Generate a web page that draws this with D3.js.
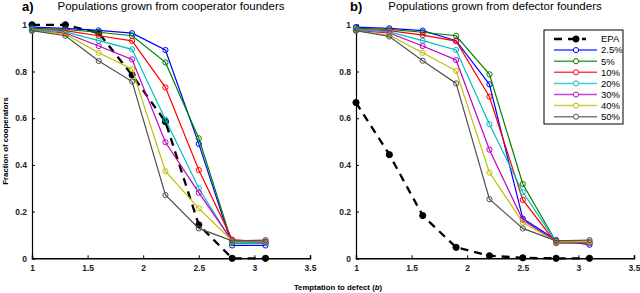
<!DOCTYPE html>
<html>
<head>
<meta charset="utf-8">
<script src="https://cdn.jsdelivr.net/npm/d3@7/dist/d3.min.js"></script>
<style>
  body { margin: 0; background: #fff; }
  svg { font-family: "Liberation Sans", Arial, sans-serif; }
</style>
</head>
<body>
<svg id="chart" width="640" height="293"></svg>
<script>
// temptation values (b)
var bValues = [1, 1.3, 1.6, 1.9, 2.2, 2.5, 2.8, 3.1];
var seriesNames = ['EPA', '2.5%', '5%', '10%', '20%', '30%', '40%', '50%'];
var seriesColors = ['#000000', '#0000ff', '#008000', '#ff0000', '#00bfbf', '#bf00bf', '#bfbf00', '#505050'];
var xTicks = [1, 1.5, 2, 2.5, 3, 3.5];
var yTicks = [0, 0.2, 0.4, 0.6, 0.8, 1];

// a) cooperator founders
var coopEPA = [1.0, 1.0, 0.965, 0.785, 0.585, 0.143, 0, 0];
var coop2_5 = [0.99, 0.985, 0.976, 0.964, 0.892, 0.49, 0.055, 0.055];
var coop5 = [0.985, 0.98, 0.968, 0.953, 0.839, 0.514, 0.065, 0.065];
var coop10 = [0.98, 0.975, 0.953, 0.931, 0.732, 0.378, 0.08, 0.07];
var coop20 = [0.98, 0.97, 0.932, 0.895, 0.594, 0.30, 0.07, 0.065];
var coop30 = [0.975, 0.965, 0.909, 0.852, 0.497, 0.281, 0.075, 0.07];
var coop40 = [0.975, 0.96, 0.88, 0.81, 0.373, 0.214, 0.075, 0.075];
var coop50 = [0.975, 0.953, 0.845, 0.757, 0.271, 0.128, 0.075, 0.078];

// b) defector founders
var defEPA = [0.667, 0.444, 0.183, 0.047, 0.011, 0.002, 0, 0];
var def2_5 = [0.99, 0.985, 0.975, 0.932, 0.745, 0.17, 0.078, 0.058];
var def5 = [0.985, 0.98, 0.968, 0.953, 0.788, 0.318, 0.07, 0.07];
var def10 = [0.98, 0.975, 0.956, 0.93, 0.692, 0.25, 0.065, 0.065];
var def20 = [0.98, 0.97, 0.932, 0.892, 0.574, 0.283, 0.07, 0.068];
var def30 = [0.975, 0.965, 0.909, 0.849, 0.465, 0.164, 0.072, 0.07];
var def40 = [0.975, 0.955, 0.88, 0.803, 0.367, 0.153, 0.072, 0.072];
var def50 = [0.975, 0.95, 0.846, 0.749, 0.253, 0.128, 0.075, 0.078];

var svg = d3.select('#chart');

var panels = [
  { left: 32, label: 'a)', labelX: 22,
    title: 'Populations grown from cooperator founders',
    series: [coopEPA, coop2_5, coop5, coop10, coop20, coop30, coop40, coop50] },
  { left: 356, label: 'b)', labelX: 350,
    title: 'Populations grown from defector founders',
    series: [defEPA, def2_5, def5, def10, def20, def30, def40, def50] }
];

var plotW = 278, plotTop = 24.8, plotBottom = 258.3;

var y = d3.scaleLinear().domain([0, 1]).range([plotBottom, plotTop]);

panels.forEach(function(p) {
  var x = d3.scaleLinear().domain([1, 3.5]).range([p.left, p.left + plotW]);

  var g = svg.append('g');

  // x axis: ticks point inward
  var xAxis = g.append('g')
    .attr('transform', 'translate(0,' + plotBottom + ')')
    .call(d3.axisBottom(x).tickValues(xTicks).tickSize(-3).tickPadding(5)
      .tickFormat(d3.format('')));
  xAxis.select('.domain').attr('stroke-width', 1.5);
  xAxis.selectAll('.tick line').attr('stroke-width', 1);
  xAxis.selectAll('text').attr('font-size', 8.5).attr('font-weight', 'bold')
    .attr('fill', '#222').attr('dy', '0.9em');

  var yAxis = g.append('g')
    .attr('transform', 'translate(' + p.left + ',0)')
    .call(d3.axisLeft(y).tickValues(yTicks).tickSize(-3).tickPadding(5)
      .tickFormat(d3.format('')));
  yAxis.select('.domain').attr('stroke-width', 1.2);
  yAxis.selectAll('text').attr('font-size', 8.5).attr('font-weight', 'bold')
    .attr('fill', '#222');

  var line = d3.line()
    .x(function(d, i) { return x(bValues[i]); })
    .y(function(d) { return y(d); });

  p.series.forEach(function(vals, si) {
    var isEPA = si === 0;
    var s = g.append('g');
    s.append('path')
      .datum(vals)
      .attr('d', line)
      .attr('fill', 'none')
      .attr('stroke', seriesColors[si])
      .attr('stroke-width', isEPA ? 2.3 : 1.2)
      .attr('stroke-dasharray', isEPA ? '8,6' : null);
    s.selectAll('circle')
      .data(vals)
      .enter().append('circle')
        .attr('cx', function(d, i) { return x(bValues[i]); })
        .attr('cy', function(d) { return y(d); })
        .attr('r', isEPA ? 3.1 : 2.6)
        .attr('fill', isEPA ? '#000' : 'none')
        .attr('stroke', seriesColors[si])
        .attr('stroke-width', 1);
  });

  // titles
  svg.append('text')
    .attr('x', p.labelX).attr('y', 11)
    .attr('font-size', 13).attr('font-weight', 'bold')
    .text(p.label);
  svg.append('text')
    .attr('x', p.left + plotW / 2).attr('y', 10)
    .attr('text-anchor', 'middle')
    .attr('font-size', 11.5)
    .text(p.title);
});

// axis labels
svg.append('text')
  .attr('transform', 'translate(8,141) rotate(-90)')
  .attr('text-anchor', 'middle')
  .attr('font-size', 7.8).attr('font-weight', 'bold')
  .text('Fraction of cooperators');

var xl = svg.append('text')
  .attr('x', 338).attr('y', 290)
  .attr('text-anchor', 'middle')
  .attr('font-size', 7.8).attr('font-weight', 'bold');
xl.append('tspan').text('Temptation to defect (');
xl.append('tspan').attr('font-style', 'italic').text('b');
xl.append('tspan').text(')');

// legend
var legend = svg.append('g').attr('transform', 'translate(544,30)');
legend.append('rect')
  .attr('width', 79).attr('height', 94)
  .attr('fill', '#fff').attr('stroke', '#000').attr('stroke-width', 1);

var items = legend.selectAll('g.item')
  .data(seriesNames)
  .enter().append('g')
    .attr('class', 'item')
    .attr('transform', function(d, i) { return 'translate(0,' + (9 + i * 11.1) + ')'; });

items.append('line')
  .attr('x1', 10).attr('x2', function(d, i) { return i === 0 ? 42 : 53; })
  .attr('stroke', function(d, i) { return seriesColors[i]; })
  .attr('stroke-width', function(d, i) { return i === 0 ? 2.3 : 1.5; })
  .attr('stroke-dasharray', function(d, i) { return i === 0 ? '8,6' : null; })
  .attr('opacity', function(d, i) { return i === 0 ? 1 : 0.75; });

items.append('circle')
  .attr('cx', 32).attr('cy', 0)
  .attr('r', function(d, i) { return i === 0 ? 3.1 : 2.6; })
  .attr('fill', function(d, i) { return i === 0 ? '#000' : '#fff'; })
  .attr('stroke', function(d, i) { return seriesColors[i]; })
  .attr('stroke-width', 1);

items.append('text')
  .attr('x', 57).attr('dy', '0.35em')
  .attr('font-size', 9.5)
  .text(function(d) { return d; });
</script>
</body>
</html>
